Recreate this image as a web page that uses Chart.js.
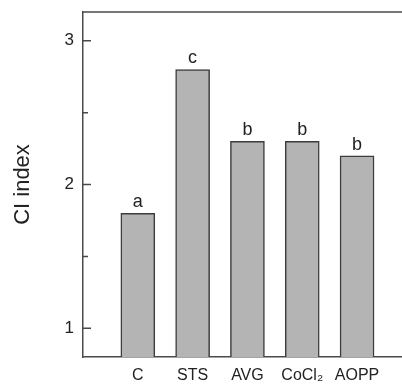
<!DOCTYPE html>
<html>
<head>
<meta charset="utf-8">
<script src="https://cdn.jsdelivr.net/npm/chart.js@4"></script>
<style>
  html, body { margin: 0; padding: 0; background: #fff; }
  #wrap { width: 402px; height: 385px; position: relative; }
</style>
</head>
<body>
<div id="wrap"><canvas id="myChart"></canvas></div>
<script>
const categories = ['C', 'STS', 'AVG', 'CoCl₂', 'AOPP'];
const ciIndex = [1.80, 2.80, 2.30, 2.30, 2.20];
const letters = ['a', 'c', 'b', 'b', 'b'];
const yTicks = [1, 1.5, 2, 2.5, 3];

const ink = '#222';
const axisColor = '#4a4a4a';

// tick marks point inward, and the top frame line
const framePlugin = {
	id: 'frame',
	afterDraw(chart) {
		const ctx = chart.ctx;
		const area = chart.chartArea;
		const y = chart.scales.y;
		ctx.save();
		ctx.strokeStyle = axisColor;
		ctx.lineWidth = 1.5;
		ctx.beginPath();
		ctx.moveTo(area.left, area.top);
		ctx.lineTo(area.right, area.top);
		y.ticks.forEach(t => {
			const py = y.getPixelForValue(t.value);
			const len = Number.isInteger(t.value) ? 8 : 5;
			ctx.moveTo(area.left, py);
			ctx.lineTo(area.left + len, py);
		});
		ctx.stroke();

		// letters above the bars
		const meta = chart.getDatasetMeta(0);
		ctx.fillStyle = ink;
		ctx.font = '18px "Liberation Sans", Arial, sans-serif';
		ctx.textAlign = 'center';
		ctx.textBaseline = 'bottom';
		meta.data.forEach((bar, i) => {
			ctx.fillText(letters[i], bar.x, bar.y - 2);
		});
		ctx.restore();
	}
};

const ctx = document.getElementById('myChart');

new Chart(ctx, {
	type: 'bar',
	data: {
		datasets: [{
			data: ciIndex.map((v, i) => ({ x: i, y: v })),
			backgroundColor: '#b4b4b4',
			borderColor: '#3c3c3c',
			borderWidth: 1.5,
			barThickness: 34
		}]
	},
	options: {
		responsive: true,
		maintainAspectRatio: false,
		animation: false,
		layout: { padding: { top: 12, left: 0, right: 0, bottom: 0 } },
		plugins: {
			legend: { display: false },
			tooltip: { enabled: false }
		},
		scales: {
			x: {
				type: 'linear',
				offset: false,
				min: -1,
				max: 4.82,
				grid: { display: false, drawTicks: false },
				border: { display: true, color: axisColor, width: 1.5 },
				afterBuildTicks: s => { s.ticks = categories.map((c, i) => ({ value: i })); },
				afterFit: s => { s.height = 28; s.paddingLeft = 0; s.paddingRight = 0; },
				ticks: {
					autoSkip: false,
					maxRotation: 0,
					padding: 9,
					color: ink,
					font: { family: '"Liberation Sans", Arial, sans-serif', size: 16 },
					callback: v => categories[v] ?? ''
				}
			},
			y: {
				min: 0.8,
				max: 3.2,
				grid: { display: false, drawTicks: false },
				border: { display: true, color: axisColor, width: 1.5 },
				afterBuildTicks: s => { s.ticks = yTicks.map(v => ({ value: v })); },
				afterFit: s => { s.width = 83; s.paddingTop = 0; s.paddingBottom = 0; },
				ticks: {
					padding: 9,
					color: ink,
					font: { family: '"Liberation Sans", Arial, sans-serif', size: 17 },
					callback: v => Number.isInteger(v) ? String(v) : ''
				},
				title: {
					display: true,
					text: 'CI index',
					color: ink,
					padding: { top: 10 },
					font: { family: '"Liberation Sans", Arial, sans-serif', size: 22 }
				}
			}
		}
	},
	plugins: [framePlugin]
});
</script>
</body>
</html>
